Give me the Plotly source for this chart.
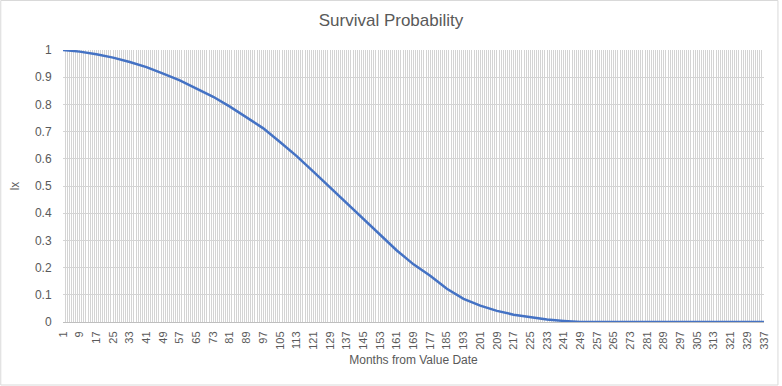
import plotly.graph_objects as go

# Months (read at every labelled tick) and survival probability lx
months = [1, 9, 17, 25, 33, 41, 49, 57, 65, 73, 81, 89, 97, 105, 113, 121, 129,
          137, 145, 153, 161, 169, 177, 185, 193, 201, 209, 217, 225, 233, 241,
          249, 257, 265, 273, 281, 289, 297, 305, 313, 321, 329, 337]
lx = [1.000, 0.994, 0.984, 0.972, 0.956, 0.937, 0.913, 0.888, 0.858, 0.828,
      0.792, 0.753, 0.712, 0.662, 0.610, 0.553, 0.495, 0.436, 0.378, 0.318,
      0.263, 0.212, 0.170, 0.122, 0.085, 0.060, 0.041, 0.027, 0.017, 0.009,
      0.004, 0.000, 0.000, 0.000, 0.000, 0.000, 0.000, 0.000, 0.000, 0.000,
      0.000, 0.000, 0.000]
x_ticks = list(range(1, 338, 8))
y_ticks = [0, 0.1, 0.2, 0.3, 0.4, 0.5, 0.6, 0.7, 0.8, 0.9, 1]

W, H = 782, 386
ML, MR, MT, MB = 63, 15, 50, 64
PW, PH = W - ML - MR, H - MT - MB

FONT = "Liberation Sans"
TXT = "#595959"
GRID = "#d4d4d4"

fig = go.Figure()
fig.add_trace(go.Scatter(
    x=months, y=lx, mode="lines",
    line=dict(color="#4472c4", width=2.5),
    hoverinfo="x+y", showlegend=False,
))

fig.update_layout(
    width=W, height=H,
    margin=dict(l=ML, r=MR, t=MT, b=MB),
    paper_bgcolor="white", plot_bgcolor="white",
    font=dict(family=FONT, color=TXT, size=11),
    title=dict(text="Survival Probability", x=0.5, xanchor="center",
               y=1 - 20 / H, yref="container", yanchor="middle",
               font=dict(family=FONT, size=17, color=TXT)),
    xaxis=dict(
        range=[1, 337], tickmode="array", tickvals=x_ticks,
        ticktext=[str(v) for v in x_ticks], tickangle=-90,
        showgrid=True, gridcolor=GRID, gridwidth=1,
        minor=dict(dtick=1, tick0=1, showgrid=True, gridcolor=GRID, gridwidth=1),
        showline=True, linecolor="#bfbfbf", linewidth=1,
        ticks="outside", ticklen=4, tickcolor="rgba(0,0,0,0)",
        zeroline=False, tickfont=dict(size=11, color=TXT),
        title=dict(text="Months from Value Date", standoff=6,
                   font=dict(size=12, color=TXT)),
    ),
    yaxis=dict(
        range=[0, 1], tickmode="array", tickvals=y_ticks,
        ticktext=[("%g" % v) for v in y_ticks],
        showgrid=True, gridcolor=GRID, gridwidth=1,
        zeroline=False, showline=False,
        ticks="outside", ticklen=8, tickcolor="rgba(0,0,0,0)",
        tickfont=dict(size=12, color=TXT),
        title=dict(text="lx", standoff=12, font=dict(size=12, color=TXT)),
    ),
)

# Chart border (Excel chart area outline)
fig.add_shape(type="rect", xref="paper", yref="paper",
              x0=(-ML + 0.5) / PW, x1=1 + (MR - 1.0) / PW,
              y0=(-MB + 1.0) / PH, y1=1 + (MT - 0.5) / PH,
              line=dict(color="#d9d9d9", width=1), fillcolor="rgba(0,0,0,0)",
              layer="below")

fig.write_html("out.html",
               config={"displayModeBar": False},
               post_script="document.body.style.margin='0';document.body.style.overflow='hidden';")
